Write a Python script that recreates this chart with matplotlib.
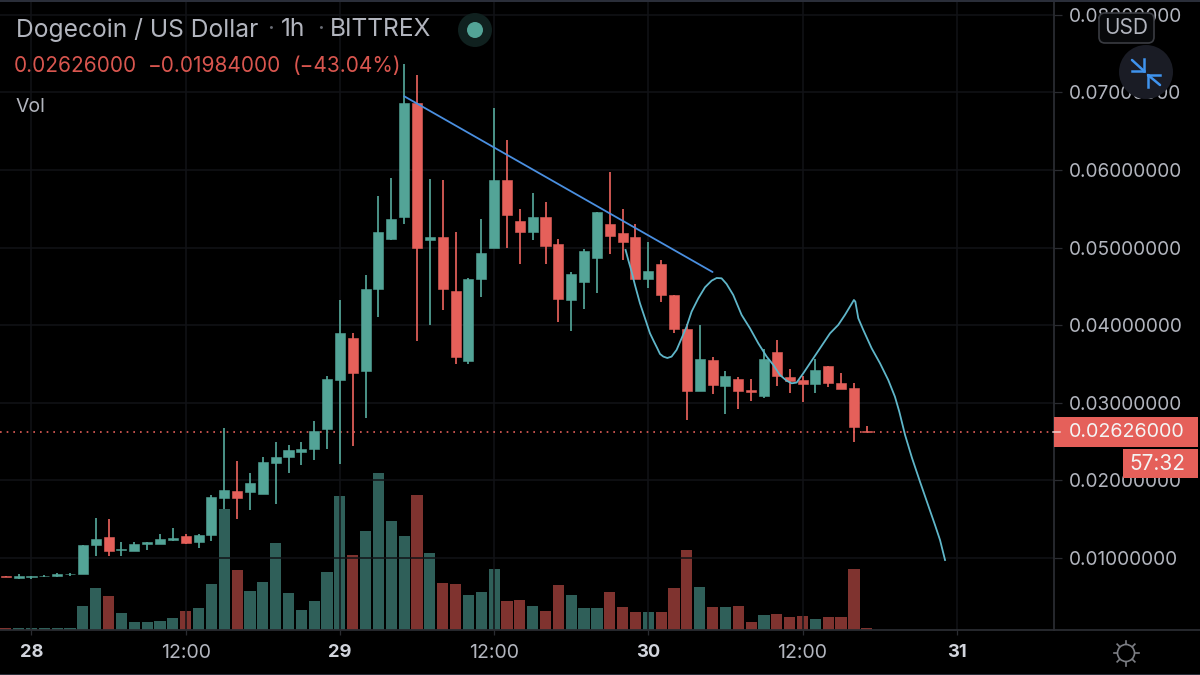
import numpy as np
import matplotlib
matplotlib.use("Agg")
import matplotlib.pyplot as plt
from matplotlib.patches import Circle, FancyBboxPatch, Rectangle

plt.rcParams['font.family'] = ['Inter', 'DejaVu Sans']

# Prices are in thousandths of a US dollar. Hours are counted from 28 Jan 00:00.
first_hour = -2
opens = [7.65, 7.42, 7.5, 7.62, 7.72, 7.88, 8.0, 11.7, 12.67, 11.0, 10.9, 11.84, 11.77, 12.36, 12.8, 12.0,
         12.9, 17.77, 18.67, 18.5, 18.3, 22.2, 23.0, 23.6, 24.05, 26.6, 32.94, 38.4, 34.06, 44.6, 51.15, 54.0,
         68.6, 51.0, 51.3, 44.36, 35.4, 45.95, 50.0, 58.7, 53.4, 52.0, 54.0, 50.5, 43.3, 45.5, 48.6, 53.1,
         51.9, 51.4, 46.0, 47.9, 43.9, 39.5, 31.5, 35.5, 32.2, 33.0, 31.6, 30.9, 36.6, 33.3, 32.9, 32.46,
         34.8, 32.6, 31.9, 26.4]
highs = [7.7, 7.94, 7.72, 7.85, 8.02, 8.1, 11.7, 15.1, 15.0, 12.0, 12.0, 12.0, 13.1, 13.87, 13.1, 13.1,
         18.1, 26.8, 22.5, 21.0, 23.05, 25.0, 24.5, 25.0, 27.7, 33.4, 43.3, 38.95, 46.47, 56.65, 59.0, 73.6,
         72.2, 58.8, 58.7, 52.0, 46.1, 53.7, 68.0, 63.9, 55.0, 57.0, 55.9, 51.1, 46.8, 49.8, 54.6, 59.7,
         55.0, 53.0, 50.7, 48.4, 43.9, 40.2, 40.0, 35.9, 34.06, 33.36, 33.03, 36.9, 38.05, 34.4, 33.5, 35.7,
         34.8, 33.9, 32.6, 27.0]
lows = [7.55, 7.3, 7.35, 7.55, 7.5, 7.7, 8.0, 10.3, 10.2, 10.3, 10.9, 11.03, 11.77, 12.2, 11.85, 11.25,
        12.15, 16.3, 15.0, 16.2, 18.3, 17.0, 21.0, 22.0, 22.6, 24.05, 22.07, 24.43, 28.08, 41.0, 51.0, 53.0,
        38.0, 40.0, 42.0, 35.0, 35.0, 43.67, 50.0, 50.0, 47.9, 51.0, 47.9, 40.4, 39.2, 42.1, 44.2, 49.2,
        48.4, 46.0, 44.8, 42.95, 38.95, 27.8, 31.5, 31.1, 28.56, 29.16, 30.27, 30.66, 32.2, 31.3, 30.1, 31.3,
        32.0, 31.8, 24.95, 26.2]
closes = [7.55, 7.68, 7.62, 7.72, 7.88, 8.0, 11.7, 12.45, 10.9, 11.16, 11.84, 12.0, 12.5, 12.6, 11.97, 12.96,
          17.8, 18.8, 17.7, 19.6, 22.4, 23.05, 23.9, 24.1, 26.4, 33.03, 38.95, 33.8, 44.66, 52.0, 53.7, 68.6,
          50.0, 51.3, 44.66, 35.9, 45.95, 49.27, 58.7, 54.2, 52.0, 54.0, 50.2, 43.4, 46.56, 49.6, 54.6, 51.5,
          50.7, 46.0, 47.0, 43.9, 39.5, 31.5, 35.6, 32.25, 33.4, 31.56, 31.4, 35.6, 33.45, 32.8, 32.46, 34.27,
          32.6, 31.8, 26.9, 26.26]
volumes = [2, 2, 2, 2, 2, 2, 24, 42, 34, 17, 8, 8, 8.5, 12, 19, 22,
           46, 120.5, 60, 39, 48, 87, 37, 20, 29, 58, 134, 75, 99, 157, 109, 94,
           135, 77, 47, 46, 35, 38, 61, 29, 30, 24, 19, 45, 35, 22, 22, 38,
           23, 17.5, 18, 18, 42, 80, 43, 23, 23, 24, 7.5, 15, 16, 13, 14, 11,
           13, 13, 61, 2]

forecast_hours = [46.23, 46.44, 46.70, 46.96, 47.35, 47.74, 48.13, 48.44, 48.70, 48.91, 49.17, 49.48, 49.81, 50.20,
                  50.59, 50.98, 51.37, 51.89, 52.41, 52.93, 53.32, 53.70, 54.09, 54.61, 55.26, 55.91, 56.56, 57.21,
                  57.73, 58.24, 58.76, 59.15, 59.54, 60.06, 60.58, 61.36, 62.14, 62.78, 63.30, 63.69, 64.00, 64.11,
                  64.34, 64.73, 65.38, 66.03, 66.67, 67.19, 67.53, 67.98, 68.52, 69.15, 69.77, 70.31, 70.70, 71.09]
forecast_prices = [49.69, 48.40, 46.90, 45.18, 42.82, 40.89, 38.95, 37.88, 37.02, 36.29, 35.95, 35.77, 35.95, 36.81,
                   38.31, 39.81, 41.75, 43.46, 44.88, 45.74, 46.08, 46.04, 45.31, 43.89, 41.32, 39.60, 37.66, 35.95,
                   34.87, 33.58, 32.85, 32.51, 32.60, 33.80, 35.09, 37.02, 38.95, 40.03, 41.32, 42.39, 43.25, 43.03,
                   40.89, 39.38, 37.02, 35.09, 32.94, 30.79, 28.86, 25.85, 22.89, 19.79, 16.83, 14.25, 12.32, 9.74]
trend_hours = [29.0, 53.0]
trend_prices = [69.5, 46.85]

last_price = 26.26
price_ticks = [10, 20, 30, 40, 50, 60, 70, 80]
price_labels = ['0.01000000', '0.02000000', '0.03000000', '0.04000000',
                '0.05000000', '0.06000000', '0.07000000', '0.08000000']
time_ticks = [0, 12, 24, 36, 48, 60, 72]
time_labels = ['28', '12:00', '29', '12:00', '30', '12:00', '31']
day_labels = {'28', '29', '30', '31'}

UP, DOWN = '#53A497', '#E5605A'
UP_VOL, DOWN_VOL = '#2F5F59', '#7F332F'
GRID, AXIS, LABEL = '#111317', '#2a2c31', '#b2b5be'

W, H = 1200, 675
fig = plt.figure(figsize=(W / 100, H / 100), dpi=100, facecolor='black')
pos = [0, (H - 629.5) / H, 1054 / W, 629.5 / H]

hours = first_hour + np.arange(len(opens))
o, h, l, c = map(np.array, (opens, highs, lows, closes))
is_up = c >= o
colors = [UP if u else DOWN for u in is_up]
vol_colors = [UP_VOL if u else DOWN_VOL for u in is_up]

# volume pane, drawn underneath
vol_ax = fig.add_axes(pos, facecolor='black')
vol_ax.bar(hours, volumes, width=0.87, color=vol_colors, linewidth=0, zorder=2)
vol_ax.set_xlim(-2.451, 79.57)
vol_ax.set_ylim(0, 629.5)
vol_ax.set_yticks([])
vol_ax.set_xticks([])
for s in vol_ax.spines.values():
    s.set_visible(False)

# price pane
ax = fig.add_axes(pos, facecolor='none')
ax.set_xlim(-2.451, 79.57)
ax.set_ylim(0.786, 81.9)
ax.set_yticks(price_ticks)
ax.set_yticklabels(price_labels)
ax.set_xticks(time_ticks)
ax.set_xticklabels(time_labels)
ax.yaxis.tick_right()
ax.grid(True, color=GRID, linewidth=1.1, zorder=0)
ax.set_axisbelow(True)
ax.tick_params(axis='y', length=5.5, width=0.9, color=AXIS, labelcolor=LABEL, labelsize=13.7, pad=5.2)
ax.tick_params(axis='x', length=3.5, width=0.9, color=AXIS, labelcolor=LABEL, labelsize=14, pad=7)
for t in ax.get_xticklabels():
    if t.get_text() in day_labels:
        t.set_fontweight('bold')
        t.set_fontsize(13.2)
        t.set_color('#d1d4dc')
for name, s in ax.spines.items():
    s.set_visible(name in ('right', 'bottom'))
    s.set_color(AXIS)
    s.set_linewidth(1.3)

ax.vlines(hours, l, h, colors=colors, linewidth=1.25, zorder=3)
ax.bar(hours, np.abs(c - o), bottom=np.minimum(c, o), width=0.78, color=colors,
       edgecolor=colors, linewidth=0.4, zorder=4)
ax.axhline(last_price, color=DOWN, linewidth=1.2, linestyle=(0, (1, 3)), zorder=2.5)
ax.plot(trend_hours, trend_prices, color='#4a8fe0', linewidth=1.3, zorder=5, solid_capstyle='round')
ax.plot(forecast_hours, forecast_prices, color='#5fb6c9', linewidth=1.3, zorder=5)

# screen furniture, in pixel coordinates
ui = fig.add_axes([0, 0, 1, 1], facecolor='none')
ui.set_xlim(0, W)
ui.set_ylim(H, 0)
ui.axis('off')
ui.add_patch(Rectangle((0, 0), W, 2, color='#2a2e39', lw=0))
ui.add_patch(Rectangle((0, 673.5), W, 1.5, color='#2a2e39', lw=0))
ui.plot([1054, W], [629.5, 629.5], color=AXIS, lw=1.3)

ui.text(16, 30, 'Dogecoin / US Dollar', color=LABEL, fontsize=17.7, va='center')
ui.text(267, 30, '·', color='#6a6d75', fontsize=17, va='center')
ui.text(281, 30, '1h', color=LABEL, fontsize=17.7, va='center')
ui.text(317, 30, '·', color='#6a6d75', fontsize=17, va='center')
ui.text(330, 30, 'BITTREX', color=LABEL, fontsize=17.7, va='center')
ui.add_patch(Circle((475, 30), 17, color='#10211f', lw=0))
ui.add_patch(Circle((475, 30), 8, color=UP, lw=0))
ui.text(14, 66, '0.02626000', color='#d9564f', fontsize=15, va='center')
ui.text(148, 66, '\u22120.01984000', color='#d9564f', fontsize=15, va='center')
ui.text(293, 66, '(\u221243.04%)', color='#d9564f', fontsize=15, va='center')
ui.text(16, 107, 'Vol', color=LABEL, fontsize=14, va='center')

ui.add_patch(FancyBboxPatch((1101, 15), 51, 26, boxstyle='round,pad=2,rounding_size=6',
                            fc='#08090b', ec='#3a3c42', lw=1.2, zorder=5))
ui.text(1126.5, 28, 'USD', color=LABEL, fontsize=15, va='center', ha='center', zorder=6)
ui.add_patch(Circle((1146, 72), 27, color='#1a1c25', lw=0, zorder=5))
for x0, y0, x1, y1 in [(1132, 60, 1144, 71), (1160, 85, 1148, 75)]:
    ui.plot([x0, x1], [y0, y1], color='#3f93ee', lw=1.8, zorder=6, solid_capstyle='round')
    ui.plot([x1 - (x1 - x0) / abs(x1 - x0) * 12, x1], [y1, y1], color='#3f93ee', lw=1.8, zorder=6)
    ui.plot([x1, x1], [y1 - (y1 - y0) / abs(y1 - y0) * 12, y1], color='#3f93ee', lw=1.8, zorder=6)

ui.add_patch(Rectangle((1054, 417), 144, 30, color=DOWN, lw=0, zorder=5))
ui.plot([1053, 1060], [432, 432], color='#f0d0ce', lw=1.1, zorder=6)
ui.text(1068.5, 432, '0.02626000', color='#f4f4f4', fontsize=14.2, va='center', zorder=6)
ui.add_patch(Rectangle((1123, 449), 75, 29, color=DOWN, lw=0, zorder=5))
ui.text(1157.5, 463.5, '57:32', color='#f4f4f4', fontsize=15, va='center', ha='center', zorder=6)

ui.add_patch(Circle((1126, 653), 8.5, fc='none', ec='#7c7e84', lw=1.2))
for a in np.deg2rad(np.arange(0, 360, 45) + 45):
    ui.plot([1126 + 9 * np.cos(a), 1126 + 12.5 * np.cos(a)],
            [653 + 9 * np.sin(a), 653 + 12.5 * np.sin(a)], color='#7c7e84', lw=1.2)

fig.savefig('out.png', dpi=100, facecolor='black')
